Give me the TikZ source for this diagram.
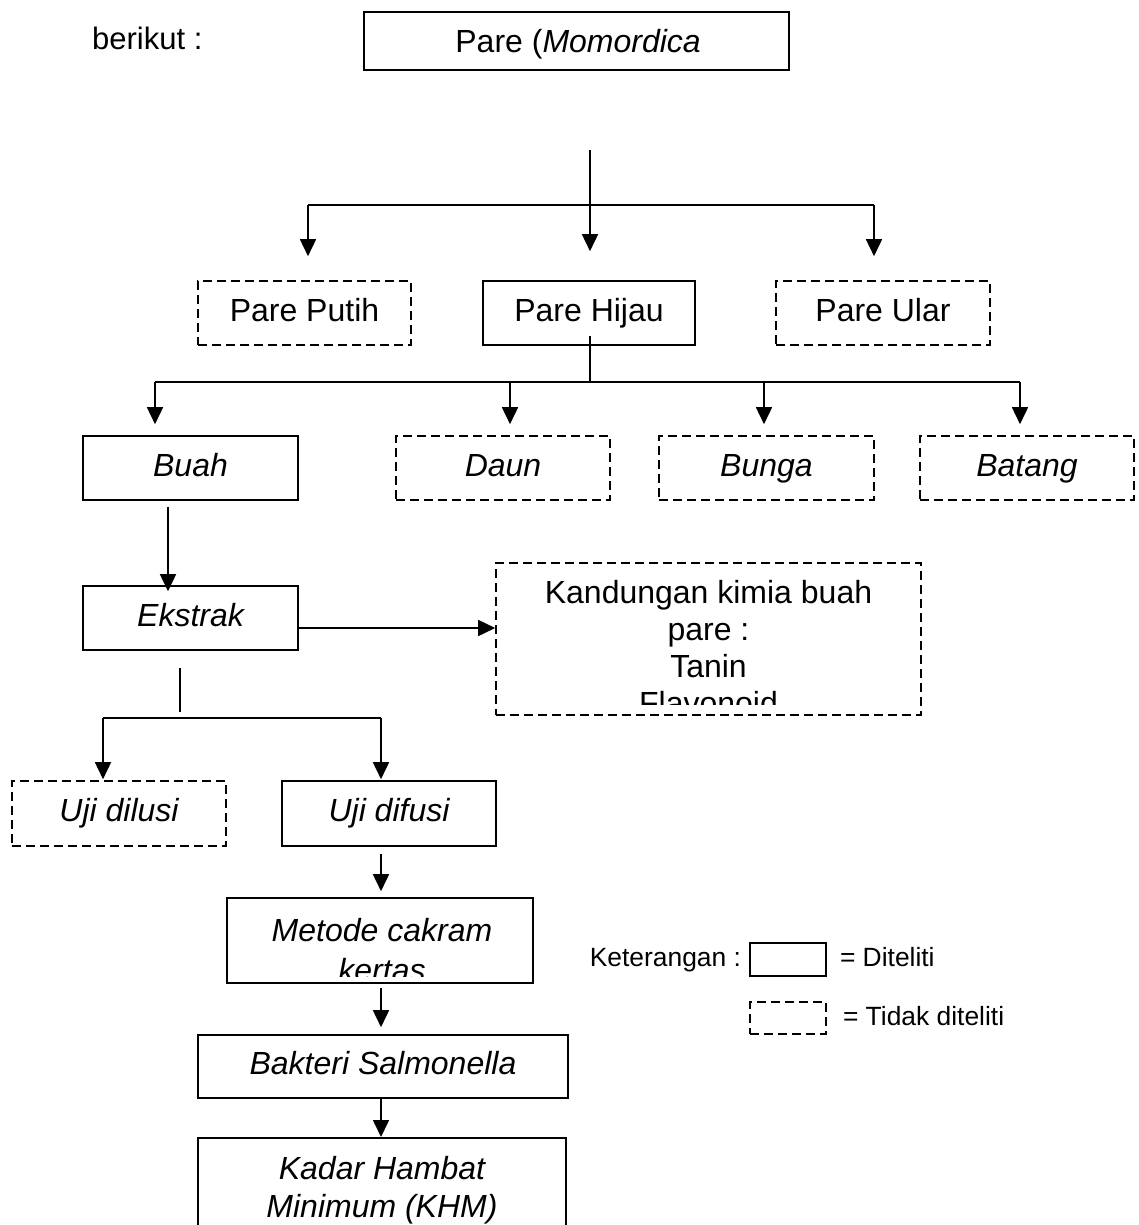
\documentclass[tikz,border=0pt]{standalone}
\usepackage{fontspec}
\setmainfont{Liberation Sans}
\usetikzlibrary{arrows.meta, positioning, calc}
\tikzset{
    block/.style={rectangle, draw, line width=1.6pt, minimum width=214pt, minimum height=64pt, inner sep=0pt, text height=23pt, text depth=7pt, font=\fontsize{32}{37}\selectfont},
    dashblock/.style={block, dash pattern=on 9pt off 5pt},
    it/.style={font=\fontsize{32}{37}\selectfont\itshape},
    boxtext/.style={align=center, inner sep=0pt, font=\fontsize{32}{37}\selectfont},
    note/.style={inner sep=0pt, text height=19pt, text depth=5pt, font=\fontsize{26.4}{30}\selectfont},
    arrow/.style={-{Triangle[width=16pt,length=17pt]}, line width=1.6pt},
    line/.style={line width=1.6pt}
}
\begin{document}
\begin{tikzpicture}[x=1pt, y=-1pt]
    \useasboundingbox (0,0) rectangle (1138,1225);
    % Judul
    \node[anchor=base west, inner sep=0pt, font=\fontsize{31}{36}\selectfont] (berikut) at (92,50) {berikut :};
    \node[block, minimum width=425pt, minimum height=58pt] (pare) at (576.5,41) {};
    \node[anchor=base east, inner sep=0pt, font=\fontsize{32}{37}\selectfont] (paretext) at (701,53) {Pare (\textit{Momordica}};

    % Jenis pare
    \node[dashblock, minimum width=213pt] (putih) at (304.5,313) {Pare Putih};
    \node[block, minimum width=212pt] (hijau) at (589,313) {Pare Hijau};
    \node[dashblock, minimum width=214pt] (ular) at (883,313) {Pare Ular};

    \coordinate (stem) at (590,150);
    \coordinate (barL) at (308,205);
    \coordinate (barR) at (874,205);
    \draw[line] (barL) -- (barR);
    \draw[arrow, shorten >=29pt] (stem) -- (stem |- hijau.north);
    \draw[arrow, shorten >=24pt] (barL) -- (barL |- putih.north);
    \draw[arrow, shorten >=24pt] (barR) -- (barR |- ular.north);

    % Bagian tanaman
    \node[block, it, minimum width=215pt] (buah) at (190.5,468) {Buah};
    \node[dashblock, it, minimum width=214pt] (daun) at (503,468) {Daun};
    \node[dashblock, it, minimum width=215pt] (bunga) at (766.5,468) {Bunga};
    \node[dashblock, it, minimum width=214pt] (batang) at (1027,468) {Batang};

    \coordinate (hijauS) at ($(hijau.south)+(1,-10)$);
    \coordinate (bar2L) at (155,382);
    \coordinate (bar2R) at (1020,382);
    \draw[line] (hijauS) -- (hijauS |- bar2L);
    \draw[line] (bar2L) -- (bar2R);
    \foreach \x/\n in {155/buah, 510/daun, 764/bunga, 1020/batang}{
        \coordinate (t\n) at (\x,382);
        \draw[arrow, shorten >=11pt] (t\n) -- (t\n |- \n.north);
    }

    % Ekstrak
    \node[block, it, minimum width=215pt] (ekstrak) at (190.5,618) {Ekstrak};
    \draw[arrow, shorten <=6pt] ($(buah.south)+(-22.5,0)$) -- ($(ekstrak.north)+(-22.5,6)$);

    \node[dashblock, minimum width=425pt, minimum height=152pt] (kimia) at (708.5,639) {};
    \begin{scope}
        \clip (kimia.north west) rectangle (921,704);
        \node[boxtext] (kimiatext) at (708.5,648) {Kandungan kimia buah\\pare :\\Tanin\\Flavonoid};
    \end{scope}
    \coordinate (ekE) at ($(ekstrak.east)+(0,10)$);
    \draw[arrow] (ekE) -- (ekE -| kimia.west);

    % Uji
    \coordinate (ekS) at (180,668);
    \coordinate (ekS2) at (180,712);
    \coordinate (bar3L) at (103,718);
    \coordinate (bar3R) at (381,718);
    \draw[line] (ekS) -- (ekS2);
    \draw[line] (bar3L) -- (bar3R);
    \node[dashblock, it, minimum width=214pt, minimum height=65pt] (dilusi) at (119,813.5) {Uji dilusi};
    \node[block, it, minimum width=214pt, minimum height=65pt] (difusi) at (389,813.5) {Uji difusi};
    \draw[arrow, shorten >=1pt] (bar3L) -- (bar3L |- dilusi.north);
    \draw[arrow, shorten >=1pt] (bar3R) -- (bar3R |- difusi.north);

    % Metode dan bakteri
    \node[block, minimum width=306pt, minimum height=85pt] (metode) at (380,940.5) {};
    \begin{scope}
        \clip (metode.north west) rectangle (533,976);
        \node[boxtext, font=\fontsize{32}{40}\selectfont\itshape] (metodetext) at (382,950) {Metode cakram\\kertas};
    \end{scope}
    \draw[arrow, shorten <=7pt, shorten >=6pt] (bar3R |- difusi.south) -- (bar3R |- metode.north);

    \node[block, it, minimum width=370pt, minimum height=63pt] (bakteri) at (383,1066.5) {Bakteri Salmonella};
    \draw[arrow, shorten <=4pt, shorten >=7pt] (bar3R |- metode.south) -- (bar3R |- bakteri.north);

    \node[block, minimum width=368pt, minimum height=120pt, anchor=north] (khm) at (382,1137) {};
    \node[boxtext, font=\fontsize{32}{38}\selectfont\itshape] (khmtext) at (382,1190) {Kadar Hambat\\Minimum (KHM)};
    \draw[arrow] (bar3R |- bakteri.south) -- (bar3R |- khm.north);

    % Keterangan
    \node[draw, line width=1.6pt, minimum width=76pt, minimum height=33pt] (legsolid) at (788,959.5) {};
    \node[draw, line width=1.6pt, dash pattern=on 9pt off 5pt, minimum width=76pt, minimum height=32pt] (legdash) at (788,1018) {};
    \node[note, left=8pt of legsolid] (ket) {Keterangan :};
    \node[note, right=13pt of legsolid] (diteliti) {= Diteliti};
    \node[note, right=16pt of legdash] (tidak) {= Tidak diteliti};
\end{tikzpicture}
\end{document}
